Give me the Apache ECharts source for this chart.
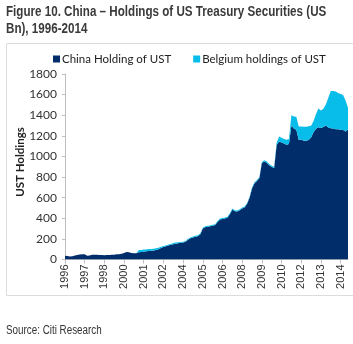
<!DOCTYPE html>
<html>
<head>
<meta charset="utf-8">
<script src="https://cdn.jsdelivr.net/npm/echarts@6/dist/echarts.min.js"></script>
<style>
html,body{margin:0;padding:0;background:#fff;}
#c{width:353px;height:344px;}
</style>
</head>
<body>
<div id="c"></div>
<script>
// Bi-monthly observations starting Jan 1996 (US$ bn)
var startYear = 1996;
var stepMonths = 2;
var china = [37,35,30,31,38,44,49,52,52,37,40,46,47,46,44,43,42,44,43,45,
  47,50,52,56,62,72,70,64,61,60,70,72,76,79,82,85,88,93,100,112,
  121,128,136,142,149,154,158,162,165,172,192,206,214,220,226,245,300,314,317,322,
  328,334,365,387,394,399,406,440,484,468,466,478,495,504,540,600,690,740,762,790,
  936,950,940,915,897,888,1110,1144,1136,1125,1114,1120,1300,1272,1260,1160,1165,1153,1153,1160,
  1185,1235,1268,1283,1275,1285,1300,1280,1274,1270,1264,1264,1260,1257,1243,1262];
var belgium = [0,0,0,0,0,0,0,0,0,0,0,0,0,0,0,0,0,0,0,0,
  0,0,0,0,0,0,0,0,0,0,22,21,20,19,19,18,17,17,14,11,
  10,9,9,9,10,10,10,9,8,8,9,8,9,10,9,9,8,9,10,9,
  9,8,9,10,9,9,10,9,10,9,9,10,9,10,9,10,10,9,10,10,
  11,12,11,12,12,12,25,49,45,44,47,50,100,115,124,130,125,136,136,132,
  112,110,145,182,172,178,205,290,360,365,365,352,345,340,300,210];
var yTicks = {min:0, max:1800, interval:200};
var titleText = 'Figure 10. China \u2013 Holdings of US Treasury Securities (US\nBn), 1996-2014';
var seriesNames = ['China Holding of UST','Belgium holdings of UST'];
var yName = 'UST Holdings';
var sourceText = 'Source: Citi Research';

var categories = [];
for (var i = 0; i < china.length; i++) {
  var m = i * stepMonths;
  var y = startYear + Math.floor(m / 12);
  var mo = (m % 12) + 1;
  categories.push(y + '-' + (mo < 10 ? '0' : '') + mo);
}

var chart = echarts.init(document.getElementById('c'), null, {renderer:'canvas'});
chart.setOption({
  animation:false,
  backgroundColor:'#fff',
  legend:{
    top:48, left:48, itemWidth:7, itemHeight:7, itemGap:22,
    icon:'rect',
    textStyle:{fontFamily:'Lato,"Liberation Sans",sans-serif',fontSize:11.5,color:'#222',padding:[0,0,0,-3]},
    data:seriesNames
  },
  grid:{left:65, right:5, top:74, bottom:84.5, containLabel:false},
  xAxis:{
    type:'category', data:categories, boundaryGap:false,
    axisLine:{lineStyle:{color:'#BFBFBF'}},
    axisTick:{show:true, interval:7, length:4, lineStyle:{color:'#BFBFBF'}},
    axisLabel:{interval:7, rotate:90, margin:5, fontSize:11, color:'#333',
      fontFamily:'"Liberation Sans",Arial,sans-serif',
      formatter:function(v){return v.slice(0,4);}},
    splitLine:{show:false}
  },
  yAxis:{
    type:'value', min:yTicks.min, max:yTicks.max, interval:yTicks.interval,
    axisLine:{show:true, lineStyle:{color:'#BFBFBF'}},
    axisTick:{show:true, length:3, lineStyle:{color:'#BFBFBF'}},
    axisLabel:{fontFamily:'Lato,"Liberation Sans",sans-serif',fontSize:12,color:'#333',margin:8,
      formatter:function(v){return String(v);}},
    splitLine:{show:false}
  },
  series:[
    {name:seriesNames[0], type:'line', stack:'t', data:china, symbol:'none',
     lineStyle:{width:0}, itemStyle:{color:'#022D6B'}, areaStyle:{color:'#022D6B', opacity:1}},
    {name:seriesNames[1], type:'line', stack:'t', data:belgium, symbol:'none',
     lineStyle:{width:0}, itemStyle:{color:'#08BDEA'}, areaStyle:{color:'#08BDEA', opacity:1}}
  ],
  graphic:[
    {type:'rect', shape:{x:6.5,y:43.5,width:360,height:252}, style:{fill:'none',stroke:'#DCDCDC',lineWidth:1}, silent:true, z:-1},
    {type:'text', x:6, y:4, scaleX:0.83, style:{text:titleText, font:'bold 14px "Liberation Sans",Arial,sans-serif', fill:'#3a3a3a', lineHeight:17}},
    {type:'text', x:20.5, y:162, rotation:Math.PI/2, style:{text:yName, font:'bold 11.5px Lato,"Liberation Sans",sans-serif', fill:'#222', align:'center', verticalAlign:'middle'}},
    {type:'text', x:6, y:325, scaleX:0.82, style:{text:sourceText, font:'12px "Liberation Sans",Arial,sans-serif', fill:'#333'}}
  ]
});
</script>
</body>
</html>
